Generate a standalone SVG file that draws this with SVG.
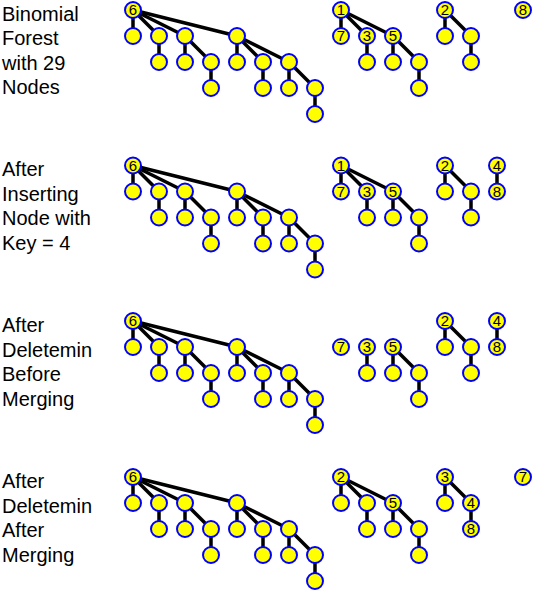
<svg xmlns="http://www.w3.org/2000/svg" width="533" height="591" viewBox="0 0 533 591">
<style>
.e{stroke:#000;stroke-width:3.5;stroke-linecap:butt}
.n circle{fill:#ffff00;stroke:#0000ff;stroke-width:2}
.n text{font-family:"Liberation Sans",Arial,sans-serif;font-size:15px;fill:#000;text-anchor:middle}
.lbl{font-family:"Liberation Sans",Arial,sans-serif;font-size:20px;fill:#000}
</style>
<rect width="533" height="591" fill="#fff"/>
<g id="labels" class="lbl">
<text x="2" y="20.7">Binomial</text>
<text x="2" y="45.2">Forest</text>
<text x="2" y="69.7">with 29</text>
<text x="2" y="94.2">Nodes</text>
<text x="2" y="176.2">After</text>
<text x="2" y="200.7">Inserting</text>
<text x="2" y="225.2">Node with</text>
<text x="2" y="249.7">Key = 4</text>
<text x="2" y="332">After</text>
<text x="2" y="356.5">Deletemin</text>
<text x="2" y="381">Before</text>
<text x="2" y="405.5">Merging</text>
<text x="2" y="488">After</text>
<text x="2" y="512.5">Deletemin</text>
<text x="2" y="537">After</text>
<text x="2" y="561.5">Merging</text>
</g>
<g id="connectors">
<g id="c-b1" transform="translate(0,10)">
<line class="e" x1="133" y1="0" x2="133" y2="26"/><line class="e" x1="133" y1="0" x2="159" y2="26"/><line class="e" x1="133" y1="0" x2="185" y2="26"/><line class="e" x1="133" y1="0" x2="237" y2="26"/><line class="e" x1="159" y1="26" x2="159" y2="52"/><line class="e" x1="185" y1="26" x2="185" y2="52"/><line class="e" x1="185" y1="26" x2="211" y2="52"/><line class="e" x1="211" y1="52" x2="211" y2="78"/><line class="e" x1="237" y1="26" x2="237" y2="52"/><line class="e" x1="237" y1="26" x2="263" y2="52"/><line class="e" x1="237" y1="26" x2="289" y2="52"/><line class="e" x1="263" y1="52" x2="263" y2="78"/><line class="e" x1="289" y1="52" x2="289" y2="78"/><line class="e" x1="289" y1="52" x2="315" y2="78"/><line class="e" x1="315" y1="78" x2="315" y2="104"/>
<line class="e" x1="341" y1="0" x2="341" y2="26"/><line class="e" x1="341" y1="0" x2="367" y2="26"/><line class="e" x1="341" y1="0" x2="393" y2="26"/><line class="e" x1="367" y1="26" x2="367" y2="52"/><line class="e" x1="393" y1="26" x2="393" y2="52"/><line class="e" x1="393" y1="26" x2="419" y2="52"/><line class="e" x1="419" y1="52" x2="419" y2="78"/>
<line class="e" x1="445" y1="0" x2="445" y2="26"/><line class="e" x1="445" y1="0" x2="471" y2="26"/><line class="e" x1="471" y1="26" x2="471" y2="52"/>
</g>
<g id="c-b2" transform="translate(0,165.5)">
<line class="e" x1="133" y1="0" x2="133" y2="26"/><line class="e" x1="133" y1="0" x2="159" y2="26"/><line class="e" x1="133" y1="0" x2="185" y2="26"/><line class="e" x1="133" y1="0" x2="237" y2="26"/><line class="e" x1="159" y1="26" x2="159" y2="52"/><line class="e" x1="185" y1="26" x2="185" y2="52"/><line class="e" x1="185" y1="26" x2="211" y2="52"/><line class="e" x1="211" y1="52" x2="211" y2="78"/><line class="e" x1="237" y1="26" x2="237" y2="52"/><line class="e" x1="237" y1="26" x2="263" y2="52"/><line class="e" x1="237" y1="26" x2="289" y2="52"/><line class="e" x1="263" y1="52" x2="263" y2="78"/><line class="e" x1="289" y1="52" x2="289" y2="78"/><line class="e" x1="289" y1="52" x2="315" y2="78"/><line class="e" x1="315" y1="78" x2="315" y2="104"/>
<line class="e" x1="341" y1="0" x2="341" y2="26"/><line class="e" x1="341" y1="0" x2="367" y2="26"/><line class="e" x1="341" y1="0" x2="393" y2="26"/><line class="e" x1="367" y1="26" x2="367" y2="52"/><line class="e" x1="393" y1="26" x2="393" y2="52"/><line class="e" x1="393" y1="26" x2="419" y2="52"/><line class="e" x1="419" y1="52" x2="419" y2="78"/>
<line class="e" x1="445" y1="0" x2="445" y2="26"/><line class="e" x1="445" y1="0" x2="471" y2="26"/><line class="e" x1="471" y1="26" x2="471" y2="52"/>
<line class="e" x1="497" y1="0" x2="497" y2="26"/>
</g>
<g id="c-b3" transform="translate(0,321)">
<line class="e" x1="133" y1="0" x2="133" y2="26"/><line class="e" x1="133" y1="0" x2="159" y2="26"/><line class="e" x1="133" y1="0" x2="185" y2="26"/><line class="e" x1="133" y1="0" x2="237" y2="26"/><line class="e" x1="159" y1="26" x2="159" y2="52"/><line class="e" x1="185" y1="26" x2="185" y2="52"/><line class="e" x1="185" y1="26" x2="211" y2="52"/><line class="e" x1="211" y1="52" x2="211" y2="78"/><line class="e" x1="237" y1="26" x2="237" y2="52"/><line class="e" x1="237" y1="26" x2="263" y2="52"/><line class="e" x1="237" y1="26" x2="289" y2="52"/><line class="e" x1="263" y1="52" x2="263" y2="78"/><line class="e" x1="289" y1="52" x2="289" y2="78"/><line class="e" x1="289" y1="52" x2="315" y2="78"/><line class="e" x1="315" y1="78" x2="315" y2="104"/>
<line class="e" x1="367" y1="26" x2="367" y2="52"/><line class="e" x1="393" y1="26" x2="393" y2="52"/><line class="e" x1="393" y1="26" x2="419" y2="52"/><line class="e" x1="419" y1="52" x2="419" y2="78"/>
<line class="e" x1="445" y1="0" x2="445" y2="26"/><line class="e" x1="445" y1="0" x2="471" y2="26"/><line class="e" x1="471" y1="26" x2="471" y2="52"/>
<line class="e" x1="497" y1="0" x2="497" y2="26"/>
</g>
<g id="c-b4" transform="translate(0,477)">
<line class="e" x1="133" y1="0" x2="133" y2="26"/><line class="e" x1="133" y1="0" x2="159" y2="26"/><line class="e" x1="133" y1="0" x2="185" y2="26"/><line class="e" x1="133" y1="0" x2="237" y2="26"/><line class="e" x1="159" y1="26" x2="159" y2="52"/><line class="e" x1="185" y1="26" x2="185" y2="52"/><line class="e" x1="185" y1="26" x2="211" y2="52"/><line class="e" x1="211" y1="52" x2="211" y2="78"/><line class="e" x1="237" y1="26" x2="237" y2="52"/><line class="e" x1="237" y1="26" x2="263" y2="52"/><line class="e" x1="237" y1="26" x2="289" y2="52"/><line class="e" x1="263" y1="52" x2="263" y2="78"/><line class="e" x1="289" y1="52" x2="289" y2="78"/><line class="e" x1="289" y1="52" x2="315" y2="78"/><line class="e" x1="315" y1="78" x2="315" y2="104"/>
<line class="e" x1="341" y1="0" x2="341" y2="26"/><line class="e" x1="341" y1="0" x2="367" y2="26"/><line class="e" x1="341" y1="0" x2="393" y2="26"/><line class="e" x1="367" y1="26" x2="367" y2="52"/><line class="e" x1="393" y1="26" x2="393" y2="52"/><line class="e" x1="393" y1="26" x2="419" y2="52"/><line class="e" x1="419" y1="52" x2="419" y2="78"/>
<line class="e" x1="445" y1="0" x2="445" y2="26"/><line class="e" x1="445" y1="0" x2="471" y2="26"/><line class="e" x1="471" y1="26" x2="471" y2="52"/>
</g>
</g>
<g id="nodes">
<g id="n-b1" transform="translate(0,10)">
<g id="b1-6" class="n"><circle cx="133" cy="0" r="8"/><text x="133" y="5.3">6</text></g>
<g id="b1-a1" class="n"><circle cx="133" cy="26" r="8"/></g>
<g id="b1-a2" class="n"><circle cx="159" cy="26" r="8"/></g>
<g id="b1-a3" class="n"><circle cx="159" cy="52" r="8"/></g>
<g id="b1-a4" class="n"><circle cx="185" cy="26" r="8"/></g>
<g id="b1-a5" class="n"><circle cx="185" cy="52" r="8"/></g>
<g id="b1-a6" class="n"><circle cx="211" cy="52" r="8"/></g>
<g id="b1-a7" class="n"><circle cx="211" cy="78" r="8"/></g>
<g id="b1-a8" class="n"><circle cx="237" cy="26" r="8"/></g>
<g id="b1-a9" class="n"><circle cx="237" cy="52" r="8"/></g>
<g id="b1-a10" class="n"><circle cx="263" cy="52" r="8"/></g>
<g id="b1-a11" class="n"><circle cx="263" cy="78" r="8"/></g>
<g id="b1-a12" class="n"><circle cx="289" cy="52" r="8"/></g>
<g id="b1-a13" class="n"><circle cx="289" cy="78" r="8"/></g>
<g id="b1-a14" class="n"><circle cx="315" cy="78" r="8"/></g>
<g id="b1-a15" class="n"><circle cx="315" cy="104" r="8"/></g>
<g id="b1-1" class="n"><circle cx="341" cy="0" r="8"/><text x="341" y="5.3">1</text></g>
<g id="b1-7" class="n"><circle cx="341" cy="26" r="8"/><text x="341" y="31.3">7</text></g>
<g id="b1-3" class="n"><circle cx="367" cy="26" r="8"/><text x="367" y="31.3">3</text></g>
<g id="b1-b1" class="n"><circle cx="367" cy="52" r="8"/></g>
<g id="b1-5" class="n"><circle cx="393" cy="26" r="8"/><text x="393" y="31.3">5</text></g>
<g id="b1-b2" class="n"><circle cx="393" cy="52" r="8"/></g>
<g id="b1-b3" class="n"><circle cx="419" cy="52" r="8"/></g>
<g id="b1-b4" class="n"><circle cx="419" cy="78" r="8"/></g>
<g id="b1-2" class="n"><circle cx="445" cy="0" r="8"/><text x="445" y="5.3">2</text></g>
<g id="b1-c1" class="n"><circle cx="445" cy="26" r="8"/></g>
<g id="b1-c2" class="n"><circle cx="471" cy="26" r="8"/></g>
<g id="b1-c3" class="n"><circle cx="471" cy="52" r="8"/></g>
<g id="b1-8" class="n"><circle cx="523" cy="0" r="8"/><text x="523" y="5.3">8</text></g>
</g>
<g id="n-b2" transform="translate(0,165.5)">
<g id="b2-6" class="n"><circle cx="133" cy="0" r="8"/><text x="133" y="5.3">6</text></g>
<g id="b2-a1" class="n"><circle cx="133" cy="26" r="8"/></g>
<g id="b2-a2" class="n"><circle cx="159" cy="26" r="8"/></g>
<g id="b2-a3" class="n"><circle cx="159" cy="52" r="8"/></g>
<g id="b2-a4" class="n"><circle cx="185" cy="26" r="8"/></g>
<g id="b2-a5" class="n"><circle cx="185" cy="52" r="8"/></g>
<g id="b2-a6" class="n"><circle cx="211" cy="52" r="8"/></g>
<g id="b2-a7" class="n"><circle cx="211" cy="78" r="8"/></g>
<g id="b2-a8" class="n"><circle cx="237" cy="26" r="8"/></g>
<g id="b2-a9" class="n"><circle cx="237" cy="52" r="8"/></g>
<g id="b2-a10" class="n"><circle cx="263" cy="52" r="8"/></g>
<g id="b2-a11" class="n"><circle cx="263" cy="78" r="8"/></g>
<g id="b2-a12" class="n"><circle cx="289" cy="52" r="8"/></g>
<g id="b2-a13" class="n"><circle cx="289" cy="78" r="8"/></g>
<g id="b2-a14" class="n"><circle cx="315" cy="78" r="8"/></g>
<g id="b2-a15" class="n"><circle cx="315" cy="104" r="8"/></g>
<g id="b2-1" class="n"><circle cx="341" cy="0" r="8"/><text x="341" y="5.3">1</text></g>
<g id="b2-7" class="n"><circle cx="341" cy="26" r="8"/><text x="341" y="31.3">7</text></g>
<g id="b2-3" class="n"><circle cx="367" cy="26" r="8"/><text x="367" y="31.3">3</text></g>
<g id="b2-b1" class="n"><circle cx="367" cy="52" r="8"/></g>
<g id="b2-5" class="n"><circle cx="393" cy="26" r="8"/><text x="393" y="31.3">5</text></g>
<g id="b2-b2" class="n"><circle cx="393" cy="52" r="8"/></g>
<g id="b2-b3" class="n"><circle cx="419" cy="52" r="8"/></g>
<g id="b2-b4" class="n"><circle cx="419" cy="78" r="8"/></g>
<g id="b2-2" class="n"><circle cx="445" cy="0" r="8"/><text x="445" y="5.3">2</text></g>
<g id="b2-c1" class="n"><circle cx="445" cy="26" r="8"/></g>
<g id="b2-c2" class="n"><circle cx="471" cy="26" r="8"/></g>
<g id="b2-c3" class="n"><circle cx="471" cy="52" r="8"/></g>
<g id="b2-4" class="n"><circle cx="497" cy="0" r="8"/><text x="497" y="5.3">4</text></g>
<g id="b2-8" class="n"><circle cx="497" cy="26" r="8"/><text x="497" y="31.3">8</text></g>
</g>
<g id="n-b3" transform="translate(0,321)">
<g id="b3-6" class="n"><circle cx="133" cy="0" r="8"/><text x="133" y="5.3">6</text></g>
<g id="b3-a1" class="n"><circle cx="133" cy="26" r="8"/></g>
<g id="b3-a2" class="n"><circle cx="159" cy="26" r="8"/></g>
<g id="b3-a3" class="n"><circle cx="159" cy="52" r="8"/></g>
<g id="b3-a4" class="n"><circle cx="185" cy="26" r="8"/></g>
<g id="b3-a5" class="n"><circle cx="185" cy="52" r="8"/></g>
<g id="b3-a6" class="n"><circle cx="211" cy="52" r="8"/></g>
<g id="b3-a7" class="n"><circle cx="211" cy="78" r="8"/></g>
<g id="b3-a8" class="n"><circle cx="237" cy="26" r="8"/></g>
<g id="b3-a9" class="n"><circle cx="237" cy="52" r="8"/></g>
<g id="b3-a10" class="n"><circle cx="263" cy="52" r="8"/></g>
<g id="b3-a11" class="n"><circle cx="263" cy="78" r="8"/></g>
<g id="b3-a12" class="n"><circle cx="289" cy="52" r="8"/></g>
<g id="b3-a13" class="n"><circle cx="289" cy="78" r="8"/></g>
<g id="b3-a14" class="n"><circle cx="315" cy="78" r="8"/></g>
<g id="b3-a15" class="n"><circle cx="315" cy="104" r="8"/></g>
<g id="b3-7" class="n"><circle cx="341" cy="26" r="8"/><text x="341" y="31.3">7</text></g>
<g id="b3-3" class="n"><circle cx="367" cy="26" r="8"/><text x="367" y="31.3">3</text></g>
<g id="b3-b1" class="n"><circle cx="367" cy="52" r="8"/></g>
<g id="b3-5" class="n"><circle cx="393" cy="26" r="8"/><text x="393" y="31.3">5</text></g>
<g id="b3-b2" class="n"><circle cx="393" cy="52" r="8"/></g>
<g id="b3-b3" class="n"><circle cx="419" cy="52" r="8"/></g>
<g id="b3-b4" class="n"><circle cx="419" cy="78" r="8"/></g>
<g id="b3-2" class="n"><circle cx="445" cy="0" r="8"/><text x="445" y="5.3">2</text></g>
<g id="b3-c1" class="n"><circle cx="445" cy="26" r="8"/></g>
<g id="b3-c2" class="n"><circle cx="471" cy="26" r="8"/></g>
<g id="b3-c3" class="n"><circle cx="471" cy="52" r="8"/></g>
<g id="b3-4" class="n"><circle cx="497" cy="0" r="8"/><text x="497" y="5.3">4</text></g>
<g id="b3-8" class="n"><circle cx="497" cy="26" r="8"/><text x="497" y="31.3">8</text></g>
</g>
<g id="n-b4" transform="translate(0,477)">
<g id="b4-6" class="n"><circle cx="133" cy="0" r="8"/><text x="133" y="5.3">6</text></g>
<g id="b4-a1" class="n"><circle cx="133" cy="26" r="8"/></g>
<g id="b4-a2" class="n"><circle cx="159" cy="26" r="8"/></g>
<g id="b4-a3" class="n"><circle cx="159" cy="52" r="8"/></g>
<g id="b4-a4" class="n"><circle cx="185" cy="26" r="8"/></g>
<g id="b4-a5" class="n"><circle cx="185" cy="52" r="8"/></g>
<g id="b4-a6" class="n"><circle cx="211" cy="52" r="8"/></g>
<g id="b4-a7" class="n"><circle cx="211" cy="78" r="8"/></g>
<g id="b4-a8" class="n"><circle cx="237" cy="26" r="8"/></g>
<g id="b4-a9" class="n"><circle cx="237" cy="52" r="8"/></g>
<g id="b4-a10" class="n"><circle cx="263" cy="52" r="8"/></g>
<g id="b4-a11" class="n"><circle cx="263" cy="78" r="8"/></g>
<g id="b4-a12" class="n"><circle cx="289" cy="52" r="8"/></g>
<g id="b4-a13" class="n"><circle cx="289" cy="78" r="8"/></g>
<g id="b4-a14" class="n"><circle cx="315" cy="78" r="8"/></g>
<g id="b4-a15" class="n"><circle cx="315" cy="104" r="8"/></g>
<g id="b4-2" class="n"><circle cx="341" cy="0" r="8"/><text x="341" y="5.3">2</text></g>
<g id="b4-b0" class="n"><circle cx="341" cy="26" r="8"/></g>
<g id="b4-b5" class="n"><circle cx="367" cy="26" r="8"/></g>
<g id="b4-b1" class="n"><circle cx="367" cy="52" r="8"/></g>
<g id="b4-5" class="n"><circle cx="393" cy="26" r="8"/><text x="393" y="31.3">5</text></g>
<g id="b4-b2" class="n"><circle cx="393" cy="52" r="8"/></g>
<g id="b4-b3" class="n"><circle cx="419" cy="52" r="8"/></g>
<g id="b4-b4" class="n"><circle cx="419" cy="78" r="8"/></g>
<g id="b4-3" class="n"><circle cx="445" cy="0" r="8"/><text x="445" y="5.3">3</text></g>
<g id="b4-c1" class="n"><circle cx="445" cy="26" r="8"/></g>
<g id="b4-4" class="n"><circle cx="471" cy="26" r="8"/><text x="471" y="31.3">4</text></g>
<g id="b4-8" class="n"><circle cx="471" cy="52" r="8"/><text x="471" y="57.3">8</text></g>
<g id="b4-7" class="n"><circle cx="523" cy="0" r="8"/><text x="523" y="5.3">7</text></g>
</g>
</g>
</svg>
